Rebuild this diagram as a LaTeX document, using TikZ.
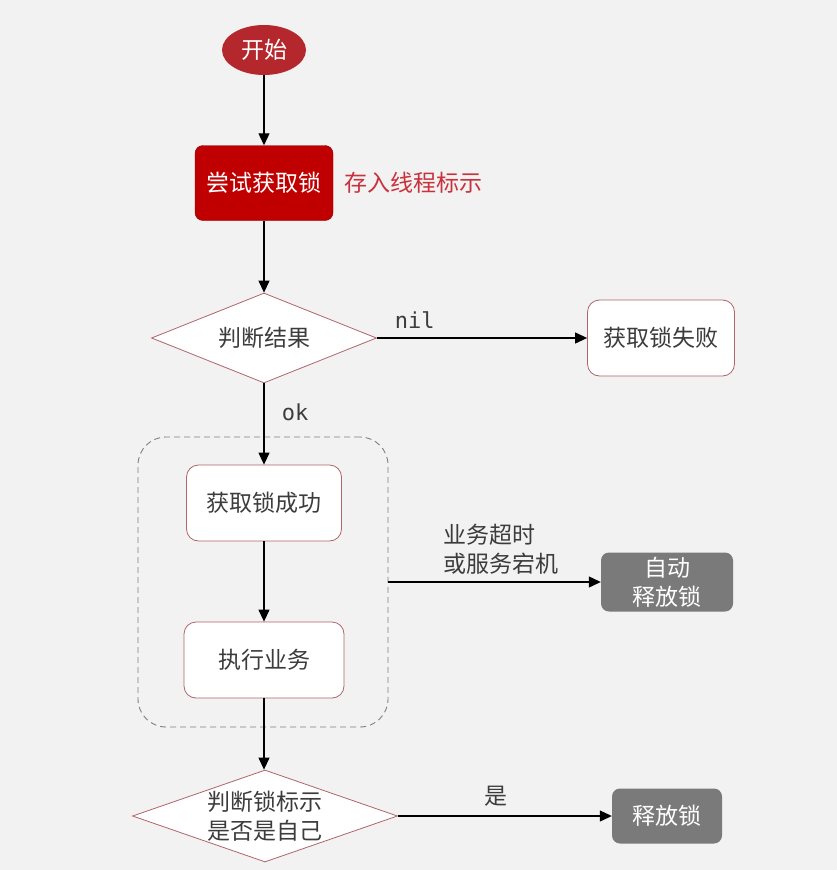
\documentclass[tikz,border=0pt]{standalone}
\usepackage{fontspec}
\setmainfont{Noto Sans CJK SC}
\setmonofont{DejaVu Sans Mono}
\usetikzlibrary{positioning,shapes.geometric,arrows.meta}
\definecolor{startred}{HTML}{B3272D}
\definecolor{lockred}{HTML}{C00000}
\definecolor{notered}{HTML}{C8323C}
\definecolor{edgered}{HTML}{B0646C}
\definecolor{boxgray}{HTML}{7A7A7A}
\definecolor{textgray}{HTML}{3C3C3C}
\definecolor{paper}{HTML}{F2F2F2}
\tikzset{
  cjk/.style={font=\fontsize{23}{29}\selectfont},
  start node/.style={
    ellipse, fill=startred, text=white, inner sep=0pt,
    minimum width=84pt, minimum height=50pt, cjk,
  },
  red box/.style={
    fill=lockred, draw=lockred!70!black, rounded corners=8pt, text=white,
    minimum width=138pt, minimum height=75pt, cjk,
  },
  white box/.style={
    fill=white, draw=edgered, line width=0.8pt, rounded corners=12pt,
    text=textgray, minimum width={#1pt}, minimum height=76pt, cjk,
  },
  gray box/.style={
    fill=boxgray, rounded corners=8pt, text=white, align=center,
    inner sep=1pt, minimum width={#1pt}, cjk,
  },
  check/.style={
    diamond, fill=white, draw=edgered, line width=0.8pt, text=textgray,
    inner sep=0pt, align=center, cjk,
  },
  group/.style={
    draw=gray, line width=0.9pt, dash pattern=on 6pt off 4pt,
    rounded corners=28pt, minimum width=250pt, minimum height=290pt,
  },
  flow/.style={-{Triangle[width=11pt,length=12pt]}, line width=1.1pt},
  edge label/.style={text=textgray},
  mono/.style={font=\ttfamily\fontsize{22}{26}\selectfont},
}

\begin{document}
\begin{tikzpicture}[x=1pt, y=-1pt]
        \fill [paper] (0,0) rectangle (837,870);
        \useasboundingbox (0,0) rectangle (837,870);

        \node [start node] (start) at (264,50) {开始};
        \node [red box] (try) at (264,183) {尝试获取锁};
        \node [text=notered, cjk, right=8pt of try] (note) {存入线程标示};

        \node [check, minimum width=225pt, minimum height=90pt, aspect=2.5] (result) at (264,338) {判断结果};
        \node [white box=147] (fail) at (661,338) {获取锁失败};

        \node [group] (scope) at (263,582) {};
        \node [white box=155] (ok) at (264,503) {获取锁成功};
        \node [white box=160] (work) at (264,660) {执行业务};
        \node [gray box=132, minimum height=59pt] (auto) at (667,582) {自动\\释放锁};

        \node [check, minimum width=265pt, minimum height=92pt, aspect=2.9] (self) at (265,816) {判断锁标示\\是否是自己};
        \node [gray box=110, minimum height=55pt] (release) at (667,816) {释放锁};

        \draw [flow] (start) -- (try);
        \draw [flow] (try) -- (result);
        \draw [flow] (result) -- node [edge label, mono, above=6pt, pos=0.18] {nil} (fail);
        \draw [flow] (result) -- node [edge label, mono, right=14pt, pos=0.36] {ok} (ok);
        \draw [flow] (ok) -- (work);
        \draw [flow] (work.south) -- (work.south |- self.north);
        \draw [flow] (scope.east) -- node [edge label, cjk, align=left, above=4pt, pos=0.53] {业务超时\\或服务宕机} (auto);
        \draw [flow] (self) -- node [edge label, cjk, above=6pt, pos=0.46] {是} (release);
      \end{tikzpicture}
\end{document}
